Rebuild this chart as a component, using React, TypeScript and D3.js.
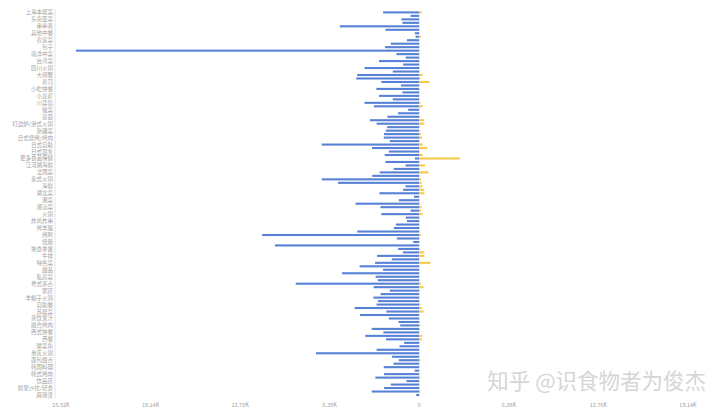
import React from "react";
import * as d3 from "d3";

const categories: string[] = [
  "上海本帮菜", "下午茶", "东南亚菜", "中东菜", "串串香", "云南菜", "其他中餐", "冒菜", "农家菜", "创意菜",
  "包子", "北京菜", "南洋中菜", "卤味", "台湾菜", "咖啡厅", "四川火锅", "地方菜", "大闸蟹", "家常菜",
  "寿司", "寿喜锅", "小吃快餐", "小火锅", "小龙虾", "山东菜", "川菜馆", "干锅", "徽菜", "快餐",
  "意面", "手抓饭", "打边炉/港式火锅", "披萨", "新疆菜", "无国界料理", "日式烧烤/烤肉", "日式牛肉饭", "日式自助", "日式铁板烧",
  "日式面条", "日本料理", "更多食品保健", "杭帮菜", "江河湖海鲜", "江浙菜", "法国菜", "泰国菜", "泰式火锅", "浙菜",
  "海鲜", "清真菜", "湖北菜", "湖南菜", "湘菜", "潮州菜", "潮汕菜", "澳门菜", "火锅", "炒菜",
  "炸鸡炸串", "烤串", "烤羊腿", "烤肉", "烤鸭", "烧烤", "烧腊", "烫菜", "熟食熏酱", "爆肚",
  "牛排", "牛肉火锅", "特色菜", "猪肚鸡", "甜品", "砂锅", "私房菜", "粉面馆", "粤式茶点", "粤菜",
  "粥店", "素食", "羊蝎子火锅", "肉蟹煲", "自助餐", "花甲", "苏帮菜", "茶餐厅", "茶饮果汁", "蛋糕",
  "融合烤肉", "螺蛳粉", "西式快餐", "西班牙菜", "西餐", "贵州菜", "酸菜鱼", "酸辣粉", "重庆火锅", "铁板烧",
  "面包甜点", "面馆", "韩国料理", "韩式炸鸡", "韩式烤肉", "食堂", "饮品店", "饺子馆", "鲜果沙拉/轻食", "鸡公煲",
  "麻辣烫",
];

// left (blue) series, drawn as negative values
const blueValues: number[] = [
  2580, 620, 1270, 1200, 5660, 2410, 310, 260, 880, 2030,
  2440, 24450, 1630, 960, 2870, 1150, 3900, 1890, 4420, 4490,
  2700, 1310, 3060, 1200, 2870, 1890, 3900, 3230, 790, 1510,
  2270, 3510, 3040, 2290, 2390, 2510, 2530, 2100, 6950, 3370,
  2170, 2460, 310, 2410, 980, 1820, 2820, 3350, 6950, 5780,
  980, 1150, 2840, 380, 1460, 4540, 2770, 620, 2700, 960,
  880, 1670, 1820, 4420, 11190, 1600, 430, 10280, 1510, 1170,
  3010, 1960, 3150, 4250, 2580, 5500, 3110, 2960, 8800, 3250,
  2100, 2750, 3270, 2940, 3040, 4610, 2340, 4230, 2170, 1480,
  1360, 3390, 2560, 3850, 2370, 1080, 1410, 3040, 7360, 1940,
  1460, 1840, 2530, 330, 2510, 3130, 910, 2030, 2510, 3390,
  220,
];

// right (yellow) series
const yellowValues: number[] = [
  170, 0, 0, 0, 0, 0, 0, 120, 0, 0,
  0, 0, 0, 0, 0, 0, 0, 0, 240, 80,
  720, 0, 0, 0, 0, 0, 100, 240, 0, 0,
  80, 330, 360, 0, 0, 120, 190, 0, 240, 570,
  0, 240, 2890, 0, 410, 0, 650, 0, 120, 170,
  210, 360, 360, 0, 0, 80, 170, 120, 240, 0,
  0, 0, 0, 0, 120, 0, 0, 0, 0, 360,
  360, 0, 790, 0, 0, 0, 0, 0, 100, 310,
  0, 0, 0, 0, 80, 170, 310, 0, 0, 0,
  80, 0, 0, 210, 170, 0, 0, 0, 0, 0,
  80, 0, 0, 0, 0, 80, 0, 0, 0, 80,
  0,
];

const tickValues: number[] = [-25520, -19140, -12760, -6380, 0, 6380, 12760, 19140];

const W = 720;
const H = 411;

export default function App() {
  const x = d3.scaleLinear().domain([-25520, 19140]).range([61, 688]);
  const y = d3
    .scaleBand<string>()
    .domain(categories)
    .range([10.66, 396.74])
    .paddingInner(0.4)
    .paddingOuter(0.2);
  const bw = y.bandwidth();
  const fmt = (v: number) => (v === 0 ? "0" : (Math.abs(v) / 1000).toFixed(2) + "K");
  const font = "'Noto Sans CJK SC', 'Noto Sans', sans-serif";

  return (
    <svg
      width={W}
      height={H}
      style={{ position: "absolute", left: 0, top: 0, background: "#fff" }}
      fontFamily={font}
    >
      <line x1={55} x2={55} y1={9} y2={398} stroke="#e3e3e3" strokeWidth={1} />
      {categories.map((c, i) => (
        <g key={c}>
          <rect
            x={x(-blueValues[i])}
            y={y(c)}
            width={x(0) - x(-blueValues[i])}
            height={bw}
            fill="#5681d6"
          />
          {yellowValues[i] > 0 && (
            <rect x={x(0)} y={y(c)} width={x(yellowValues[i]) - x(0)} height={bw} fill="#f7c948" />
          )}
          {i % 2 === 0 && (
            <text
              x={53}
              y={(y(c) as number) + bw / 2}
              textAnchor="end"
              dominantBaseline="central"
              fontSize={5.5}
              fill="#a0a0a0"
            >
              {c}
            </text>
          )}
        </g>
      ))}
      {tickValues.map((t) => (
        <text
          key={t}
          x={x(t)}
          y={404.5}
          textAnchor="middle"
          dominantBaseline="central"
          fontSize={5.5}
          fill="#a0a0a0"
        >
          {fmt(t)}
        </text>
      ))}
      <text
        x={706}
        y={389}
        textAnchor="end"
        fontSize={21.5}
        fill="#d6d6d6"
        fontFamily="'Noto Sans CJK SC', sans-serif"
      >
        知乎 @识食物者为俊杰
      </text>
    </svg>
  );
}
